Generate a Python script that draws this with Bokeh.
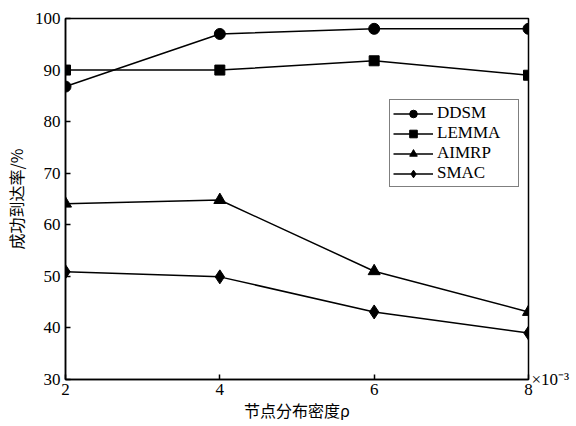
from bokeh.plotting import figure
from bokeh.models import Range1d, FixedTicker, Legend, LinearAxis
from bokeh.embed import file_html
from bokeh.resources import INLINE

x = [2, 4, 6, 8]
ddsm = [86.8, 97.0, 98.0, 98.0]
lemma = [90.0, 90.0, 91.8, 89.0]
aimrp = [64.1, 64.8, 51.0, 43.1]
smac = [50.9, 49.9, 43.1, 39.0]
series_names = ["DDSM", "LEMMA", "AIMRP", "SMAC"]
markers = ["circle", "square", "triangle", "diamond"]
marker_sizes = [11, 10, 12, 14]
x_ticks = [2, 4, 6, 8]
y_ticks = [30, 40, 50, 60, 70, 80, 90, 100]
x_scale_note = "×10⁻³"

SERIF = "Liberation Serif"
CJK = "Noto Sans CJK SC"

p = figure(width=572, height=424, output_backend="svg", toolbar_location=None,
           x_range=Range1d(2, 8), y_range=Range1d(30, 100),
           min_border_left=63, min_border_right=44, min_border_top=18, min_border_bottom=42)
p.background_fill_color = "white"
p.border_fill_color = "white"
p.outline_line_color = "black"
p.outline_line_width = 1.5
p.grid.visible = False

for ax in (p.xaxis[0], p.yaxis[0]):
    ax.axis_line_color = "black"
    ax.axis_line_width = 1.5
    ax.major_tick_in = 5
    ax.major_tick_out = 0
    ax.major_tick_line_width = 1.5
    ax.minor_tick_line_color = None
    ax.major_label_text_font = SERIF
    ax.major_label_text_font_size = "17px"
    ax.major_label_text_color = "black"
    ax.axis_label_text_font = CJK
    ax.axis_label_text_font_size = "16px"
    ax.axis_label_text_font_style = "normal"
    ax.axis_label_text_color = "black"

p.xaxis.ticker = FixedTicker(ticks=x_ticks)
p.yaxis.ticker = FixedTicker(ticks=y_ticks)
p.xaxis.major_label_standoff = 4
p.yaxis.major_label_standoff = 5
p.xaxis.axis_label = "节点分布密度ρ"
p.yaxis.axis_label = "成功到达率/%"
p.xaxis.axis_label_standoff = 0
p.yaxis.axis_label_standoff = 4

# right-side axis used only to show the x scale note next to the bottom-right corner
note_axis = LinearAxis(ticker=FixedTicker(ticks=[y_ticks[0]]),
                       major_label_overrides={y_ticks[0]: x_scale_note})
note_axis.axis_line_color = None
note_axis.major_tick_line_color = None
note_axis.minor_tick_line_color = None
note_axis.major_tick_in = 0
note_axis.major_tick_out = 0
note_axis.major_label_standoff = 3
note_axis.major_label_text_font = SERIF
note_axis.major_label_text_font_size = "17px"
note_axis.major_label_text_color = "black"
note_axis.major_label_text_baseline = "bottom"
p.add_layout(note_axis, "right")

items = []
for name, ys, m, s in zip(series_names, [ddsm, lemma, aimrp, smac], markers, marker_sizes):
    r1 = p.line(x, ys, line_color="black", line_width=1.5)
    r2 = p.scatter(x, ys, marker=m, size=s, fill_color="black", line_color="black")
    items.append((name, [r1, r2]))

legend = Legend(items=items, location=(324, 192))
legend.label_text_font = SERIF
legend.label_text_font_size = "17px"
legend.label_text_color = "black"
legend.border_line_color = "black"
legend.border_line_width = 1.5
legend.background_fill_alpha = 1
legend.padding = 3
legend.margin = 0
legend.spacing = 0
legend.glyph_width = 40
legend.glyph_height = 19
legend.label_height = 19
legend.label_width = 78
legend.label_standoff = 4
p.add_layout(legend, "center")

open("out.html", "w").write(file_html(p, INLINE))
